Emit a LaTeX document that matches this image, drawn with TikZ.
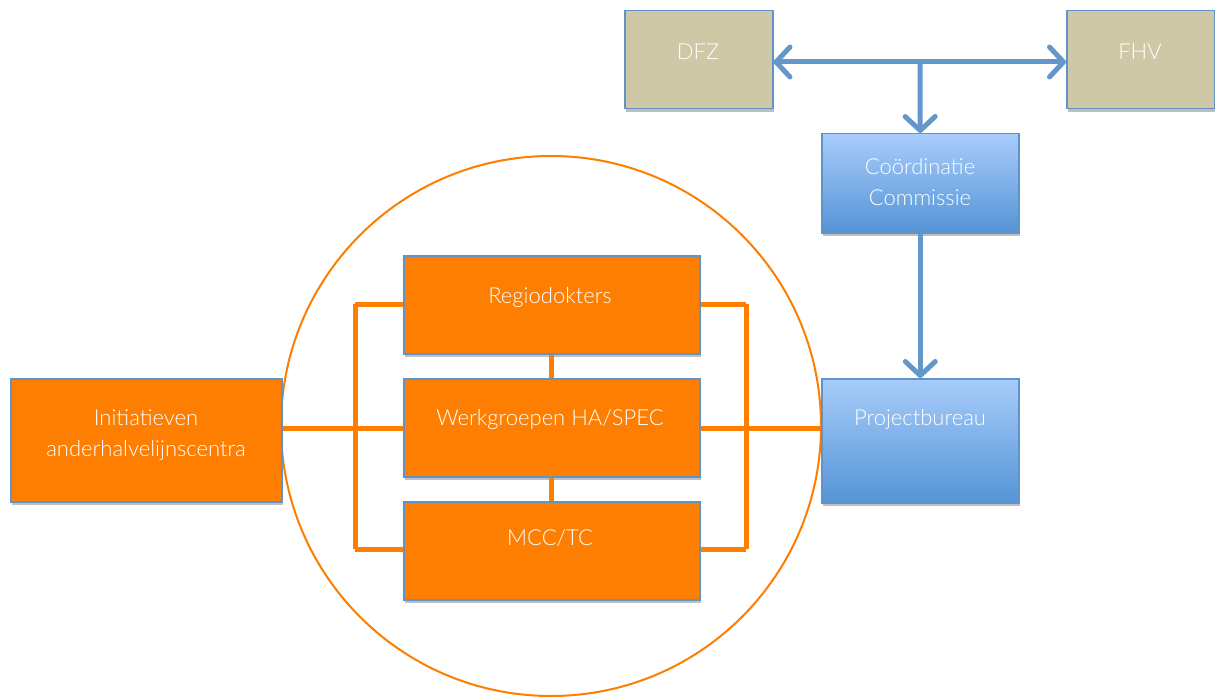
\documentclass[tikz,border=0pt]{standalone}
\usepackage{fontspec}
\setmainfont{Lato}[UprightFont={* Light}]
\usetikzlibrary{arrows.meta,shadows}
\definecolor{org}{RGB}{253,126,0}
\definecolor{bord}{RGB}{98,146,202}
\definecolor{arr}{RGB}{99,150,202}
\definecolor{tan}{RGB}{206,200,166}
\definecolor{bltop}{RGB}{168,204,251}
\definecolor{blbot}{RGB}{84,148,214}
\tikzset{
  box/.style={draw=bord, line width=1.5pt, minimum width=#1, inner sep=0pt,
    drop shadow={shadow xshift=1pt, shadow yshift=-3pt, opacity=0.25, fill=black}},
  obox/.style={box=296pt, fill=org, minimum height=98pt},
  tbox/.style={box=148pt, fill=tan, minimum height=98pt},
  bbox/.style={box=197pt, top color=bltop, bottom color=blbot},
  txt/.style={text=white, font=\fontsize{22}{31}\selectfont, align=center},
  oline/.style={draw=org, line width=5pt},
  barrow/.style={draw=arr, line width=5pt, arrows={-Straight Barb[length=14pt,width=30pt,round]}}
}
\begin{document}
\begin{tikzpicture}[x=1pt,y=-1pt]
\useasboundingbox (0,0) rectangle (1215,698);
% circle
\draw[org, line width=2pt] (551,426) circle[radius=270];
% boxes
\node[tbox, anchor=north west] (dfz) at (624,10) {};
\node[tbox, anchor=north west] (fhv) at (1066,10) {};
\node[bbox, minimum height=99pt, anchor=north west] (coord) at (821,133) {};
\node[bbox, minimum height=124pt, anchor=north west] (proj) at (821,378) {};
\node[box=271pt, fill=org, minimum height=123pt, anchor=north west] (init) at (10,378) {};
% orange connectors (behind orange boxes)
\coordinate (lt) at (355,304);
\coordinate (lb) at (355,549);
\coordinate (rt) at (746,304);
\coordinate (rb) at (746,549);
\coordinate (lm) at (355,428);
\coordinate (rm) at (746,428);
\draw[oline] (lt) -- (lb);
\draw[oline] (rt) -- (rb);
\draw[oline] (init.east |- lm) -- (lm);
\draw[oline] (rm) -- (proj.west |- rm);
\node[obox, anchor=north west] (regio) at (403,255) {};
\node[obox, anchor=north west] (werk) at (403,378) {};
\node[obox, anchor=north west] (mcc) at (403,501) {};
\draw[oline] (lt) -- (regio.west |- lt);
\draw[oline] (lb) -- (mcc.west |- lb);
\draw[oline] (rt) -- (regio.east |- rt);
\draw[oline] (rb) -- (mcc.east |- rb);
\draw[oline] (lm) -- (werk.west |- lm);
\draw[oline] (rm) -- (werk.east |- rm);
\draw[oline] (regio.south) -- (werk.north);
\draw[oline] (werk.south) -- (mcc.north);
% blue arrows
\coordinate (jn) at (920,62);
\draw[barrow] (jn) -- (dfz.east |- jn);
\draw[barrow] (jn) -- (fhv.west |- jn);
\draw[barrow] (jn) -- (coord.north);
\draw[barrow] (coord.south) -- (proj.north);
% texts
\node[txt] at (698,52) {DFZ};
\node[txt] at (1140,52) {FHV};
\node[txt] at (920,182) {Coördinatie\\Commissie};
\node[txt] at (920,420) {Projectbureau};
\node[txt] at (146,435) {Initiatieven\\anderhalvelijnscentra};
\node[txt] at (550,298) {Regiodokters};
\node[txt] at (550,420) {Werkgroepen HA/SPEC};
\node[txt] at (550,538) {MCC/TC};
\end{tikzpicture}
\end{document}
